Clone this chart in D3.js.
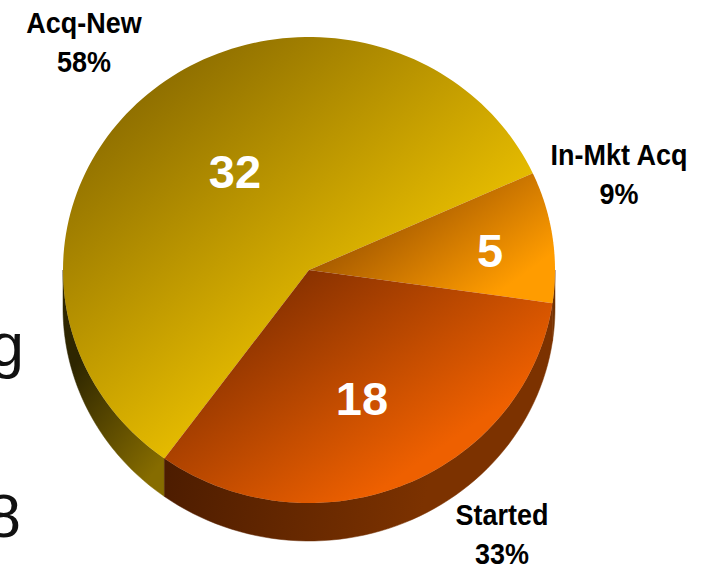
<!DOCTYPE html>
<html>
<head>
<meta charset="utf-8">
<script src="https://cdn.jsdelivr.net/npm/d3@7/dist/d3.min.js"></script>
<style>
  html, body { margin: 0; padding: 0; background: #fff; }
  svg { display: block; }
  text { font-family: "Liberation Sans", Arial, sans-serif; }
</style>
</head>
<body>
<svg id="chart" width="709" height="566"></svg>
<script>
// Slice data, in drawing order
const categories = ["Acq-New", "In-Mkt Acq", "Started"];
const values = [32, 5, 18];
const percents = ["58%", "9%", "33%"];

// Colour ramps for the top faces and the rim
const topDark = ["#876800", "#a85c00", "#8a3200"];
const topLight = ["#e4ba00", "#ff9c00", "#ee6000"];
const sideDark = ["#2e2600", "#6e3000", "#4c1c00"];
const sideLight = ["#866c00", "#7a3400", "#7c3200"];

// Fragments of large text sitting behind the pie
const backdropLetters = ["g", "8"];

const cx = 309, cy = 270, rx = 246, ry = 233, depth = 38;
const startDeg = -144;

const svg = d3.select("#chart");
const defs = svg.append("defs");

const pie = d3.pie().sort(null)
  .startAngle(startDeg * Math.PI / 180)
  .endAngle((startDeg + 360) * Math.PI / 180);
const arcs = pie(values);

const xAt = a => cx + rx * Math.sin(a);
const yAt = a => cy - ry * Math.cos(a);
const sweep = (a0, a1, n) => d3.range(0, n + 1).map(k => a0 + (a1 - a0) * k / n);

// Backdrop letters
const backdropX = d3.scaleOrdinal().domain(backdropLetters).range([24, 21]);
const backdropY = d3.scaleOrdinal().domain(backdropLetters).range([366, 537]);
svg.selectAll("text.backdrop").data(backdropLetters).join("text")
  .attr("class", "backdrop")
  .attr("x", d => backdropX(d))
  .attr("y", d => backdropY(d))
  .attr("text-anchor", "end")
  .attr("font-size", 62)
  .attr("fill", "#111")
  .text(d => d);

// Gradients: every face shades along the same diagonal, dark at the upper left
const topStops = [
  { x1: 100, y1: 90, x2: 303, y2: 349 },
  { x1: 309, y1: 270, x2: 385, y2: 375 },
  { x1: 309, y1: 270, x2: 435, y2: 452 }
];
const sideStops = [
  { x1: 63, y1: 380, x2: 164, y2: 460 },
  { x1: 545, y1: 300, x2: 555, y2: 340 },
  { x1: 164, y1: 460, x2: 420, y2: 520 }
];
const addGradient = (id, s, from, to) => {
  const g = defs.append("linearGradient").attr("id", id)
    .attr("gradientUnits", "userSpaceOnUse")
    .attr("x1", s.x1).attr("y1", s.y1).attr("x2", s.x2).attr("y2", s.y2);
  g.append("stop").attr("offset", 0).attr("stop-color", from);
  g.append("stop").attr("offset", 1).attr("stop-color", to);
};
arcs.forEach((d, i) => {
  addGradient("top" + i, topStops[i], topDark[i], topLight[i]);
  addGradient("side" + i, sideStops[i], sideDark[i], sideLight[i]);
});

const line = d3.line();

// Rim: the stretch of each slice's outer edge that faces the viewer (3 to 9 o'clock)
const rimPath = d => {
  const tau = 2 * Math.PI;
  const shift = d.startAngle < 0 ? tau : 0;
  const from = Math.max(d.startAngle + shift, Math.PI / 2);
  const to = Math.min(d.endAngle + shift, 3 * Math.PI / 2);
  const steps = sweep(from, to, 60);
  const upper = steps.map(a => [xAt(a), yAt(a)]);
  const lower = steps.slice().reverse().map(a => [xAt(a), yAt(a) + depth]);
  return line(upper.concat(lower)) + "Z";
};
svg.append("g").selectAll("path").data(arcs).join("path")
  .attr("d", rimPath)
  .attr("fill", (d, i) => `url(#side${i})`)
  .attr("stroke", (d, i) => `url(#side${i})`)
  .attr("stroke-width", 0.5);

// Top faces: elliptical sectors swept from each slice's pie angles
svg.append("g").selectAll("path").data(arcs).join("path")
  .attr("d", d => line([[cx, cy]].concat(sweep(d.startAngle, d.endAngle, 120).map(a => [xAt(a), yAt(a)]))) + "Z")
  .attr("fill", (d, i) => `url(#top${i})`);

// White counts on the slices
const valueX = d3.scaleOrdinal().domain(values).range([235, 490, 362]);
const valueY = d3.scaleOrdinal().domain(values).range([188, 267, 415]);
svg.selectAll("text.value").data(values).join("text")
  .attr("class", "value")
  .attr("x", d => valueX(d))
  .attr("y", d => valueY(d))
  .attr("text-anchor", "middle")
  .attr("font-size", 47)
  .attr("font-weight", "bold")
  .attr("fill", "#fff")
  .text(d => d);

// Category name and share beside each slice, set slightly condensed
const labelX = d3.scaleOrdinal().domain(categories).range([84, 619, 502]);
const labelY = d3.scaleOrdinal().domain(categories).range([33, 165, 525]);
const labels = svg.selectAll("g.label").data(categories).join("g").attr("class", "label");
labels.append("text")
  .attr("transform", d => `translate(${labelX(d)},${labelY(d)}) scale(0.93,1)`)
  .attr("text-anchor", "middle").attr("font-size", 29).attr("font-weight", "bold")
  .attr("fill", "#000").text(d => d);
labels.append("text")
  .attr("transform", d => `translate(${labelX(d)},${labelY(d) + 39}) scale(0.93,1)`)
  .attr("text-anchor", "middle").attr("font-size", 29).attr("font-weight", "bold")
  .attr("fill", "#000").text((d, i) => percents[i]);
</script>
</body>
</html>
